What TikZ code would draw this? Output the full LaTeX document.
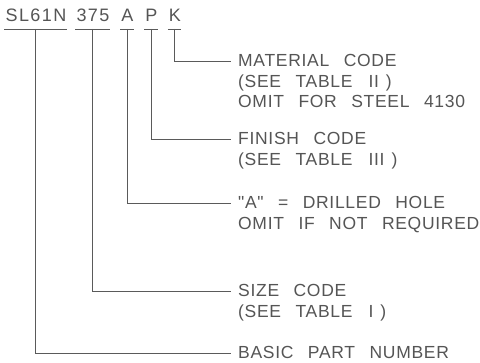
\documentclass[tikz,border=0pt]{standalone}
\usepackage{fontspec}
\newfontfamily\cadfont{Liberation Sans}[LetterSpace=4,WordSpace=2.6]
\newfontfamily\topfont{Liberation Sans}[LetterSpace=8,WordSpace=2.6]
\definecolor{ink}{RGB}{85,85,85}
\definecolor{wire}{RGB}{90,90,90}
\begin{document}
\begin{tikzpicture}[x=1pt,y=-1pt,
  code/.style={font=\topfont\fontsize{18}{20}\selectfont, text=ink, inner sep=0pt, anchor=base},
  lbl/.style={font=\cadfont\fontsize{17.5}{20}\selectfont, text=ink, inner sep=0pt, anchor=base west},
  lead/.style={draw=wire, line width=0.8pt},
  uline/.style={draw=wire, line width=0.9pt}]
\useasboundingbox[fill=white] (0,0) rectangle (480,363);
% part number
\node[code] (sl) at (36,22) {SL61N};
\node[code] (sz) at (93,22) {375};
\node[code] (a) at (127.5,22) {A};
\node[code] (p) at (151.5,22) {P};
\node[code] (k) at (175,22) {K};
\foreach \n in {sl,sz,a,p,k}{
  \draw[uline] ([xshift=-1pt,yshift=-7pt]\n.base west) -- node[coordinate] (\n u) {} ([xshift=0pt,yshift=-7pt]\n.base east);
}
% labels
\node[lbl] (mat1) at (238,67) {MATERIAL CODE};
\node[lbl] (mat2) at (238,88) {(SEE TABLE\hspace{16pt}II\hspace{7pt})};
\node[lbl] (mat3) at (238,108) {OMIT FOR STEEL 4130};
\node[lbl] (fin1) at (238,145) {FINISH CODE};
\node[lbl] (fin2) at (238,166) {(SEE TABLE\hspace{16pt}III\hspace{7pt})};
\node[lbl] (hol1) at (238,209) {"A" = DRILLED HOLE};
\node[lbl] (hol2) at (238,230) {OMIT IF NOT REQUIRED};
\node[lbl] (siz1) at (238,297) {SIZE CODE};
\node[lbl] (siz2) at (238,318) {(SEE TABLE\hspace{16pt}I\hspace{7pt})};
\node[lbl] (bas1) at (238,359) {BASIC PART NUMBER};
% leaders
\draw[lead] (ku) |- ([xshift=-7pt,yshift=6pt]mat1.base west);
\draw[lead] (pu) |- ([xshift=-7pt,yshift=6pt]fin1.base west);
\draw[lead] (au) |- ([xshift=-7pt,yshift=6pt]hol1.base west);
\draw[lead] (szu) |- ([xshift=-7pt,yshift=6pt]siz1.base west);
\draw[lead] (slu) |- ([xshift=-7pt,yshift=6pt]bas1.base west);
\end{tikzpicture}
\end{document}
